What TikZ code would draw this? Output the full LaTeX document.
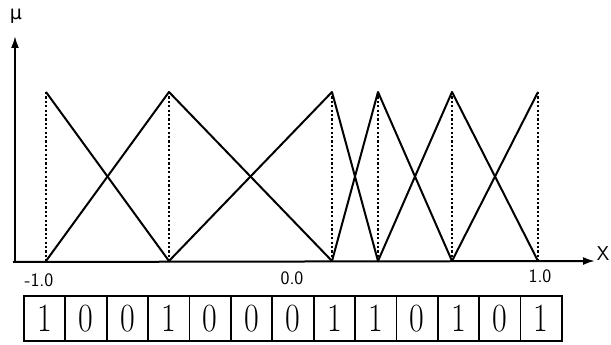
\documentclass[tikz,border=0pt]{standalone}
\usepackage{fontspec}
\usetikzlibrary{arrows.meta}
\newfontfamily\bitfont{Latin Modern Roman}[FakeStretch=0.8]
\newfontfamily\greekfont{DejaVu Sans}
\begin{document}
\begin{tikzpicture}[x=1pt,y=-1pt,
  axis/.style={line width=2pt,-{Latex[length=12pt,width=8pt]}},
  mf/.style={line width=2pt,line join=round},
  guide/.style={line width=1.3pt,dash pattern=on 2.2pt off 2.2pt},
  ticklbl/.style={font=\sffamily\fontsize{19}{19}\selectfont,inner sep=0pt},
  bitcell/.style={draw,line width=1pt,minimum width=40.6pt,minimum height=44pt,inner sep=0pt,font=\bitfont\fontsize{40}{40}\selectfont},
  outerbox/.style={draw,line width=1.4pt}]
\useasboundingbox (0,0) rectangle (611,345);
% axes
\coordinate (o) at (15,262);
\coordinate (ytip) at (15,36);
\coordinate (xtip) at (595,261);
\draw[axis] (o) -- (ytip);
\draw[axis] (13,262) -- (xtip);
\node[inner sep=0pt,font=\greekfont\fontsize{19}{19}\selectfont] (mu) at (16,16) {μ};
\node[font=\sffamily\fontsize{20}{20}\selectfont,inner sep=0pt] (xl) at (603,254) {X};
% points
\foreach \n/\x in {1/46,2/169,3/332,4/378,5/452,6/538}{
  \coordinate (t\n) at (\x,92);
  \coordinate (b\n) at (\x,261);
  \draw[guide] (t\n) -- (b\n);
}
% membership functions
\draw[mf] (t1) -- (b2);
\draw[mf] (b1) -- (t2) -- (b3);
\draw[mf] (b2) -- (t3) -- (b4);
\draw[mf] (b3) -- (t4) -- (b5);
\draw[mf] (b4) -- (t5) -- (b6);
\draw[mf] (b5) -- (t6);
% tick labels
\node[ticklbl] (lm1) at (39,280) {-1.0};
\node[ticklbl] (l0) at (292,278) {0.0};
\node[ticklbl] (l1) at (540,276) {1.0};
% bit string
\foreach \b [count=\i] in {1,0,0,1,0,0,0,1,1,0,1,0,1}{
  \node[bitcell] (c\i) at ({24+41.38*(\i-0.5)},318.5) {\b};
}
\draw[outerbox] (24,296) rectangle (562,341);
\end{tikzpicture}
\end{document}
